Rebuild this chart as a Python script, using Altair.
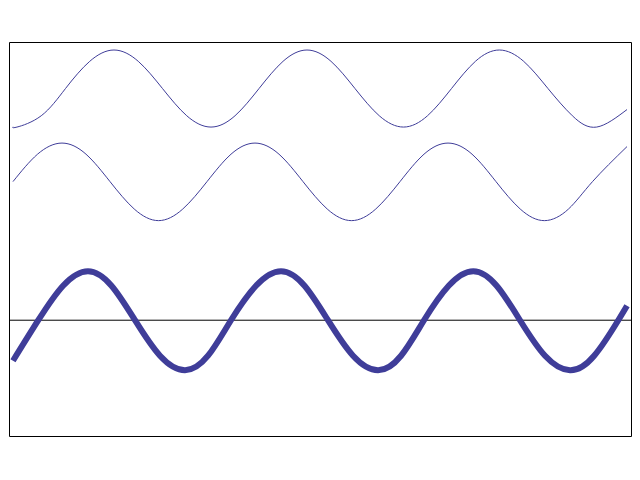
import altair as alt
import pandas as pd

# Values (x in data units 0..10, y in data units)
top_x = [0.0, 0.065, 0.46, 0.855, 1.25, 1.645, 2.04, 2.435, 2.83, 3.225, 3.616, 4.007,
         4.398, 4.788, 5.179, 5.570, 5.965, 6.360, 6.751, 7.142, 7.531, 7.920, 8.317,
         8.713, 9.11, 9.506, 10.0]
top_y = [3.865, 3.86, 4.086, 4.63, 5.174, 5.40, 5.174, 4.63, 4.086, 3.86, 4.086, 4.63,
         5.174, 5.40, 5.174, 4.63, 4.086, 3.86, 4.086, 4.63, 5.174, 5.40, 5.174,
         4.63, 4.086, 3.86, 4.21]

mid_x = [0.0, 0.40, 0.798, 1.189, 1.580, 1.975, 2.370, 2.765, 3.160, 3.551, 3.941,
         4.332, 4.723, 5.118, 5.513, 5.908, 6.303, 6.694, 7.085, 7.476, 7.866, 8.261,
         8.656, 9.047, 9.438, 10.0]
mid_y = [2.77, 3.318, 3.54, 3.318, 2.77, 2.222, 1.99, 2.222, 2.77, 3.318, 3.54,
         3.318, 2.77, 2.222, 1.99, 2.222, 2.77, 3.318, 3.54, 3.318, 2.77, 2.222,
         1.99, 2.222, 2.77, 3.47]

bot_x = [0.0, 0.412, 0.816, 1.221, 1.604, 1.987, 2.394, 2.801, 3.176, 3.550, 3.958,
         4.365, 4.748, 5.130, 5.538, 5.945, 6.320, 6.694, 7.096, 7.497, 7.877, 8.257,
         8.665, 9.072, 9.465, 9.858, 10.0]
bot_y = [-0.81, 0.0, 0.69, 0.98, 0.69, 0.0, -0.71, -1.0, -0.71, 0.0, 0.69,
         0.98, 0.69, 0.0, -0.71, -1.0, -0.71, 0.0, 0.69, 0.98, 0.69, 0.0,
         -0.71, -1.0, -0.71, 0.0, 0.29]

zero_level = [0.0]

top_df = pd.DataFrame({"x": top_x, "y": top_y})
mid_df = pd.DataFrame({"x": mid_x, "y": mid_y})
bot_df = pd.DataFrame({"x": bot_x, "y": bot_y})
zero_df = pd.DataFrame({"y": zero_level})

LINE_COLOR = "#3f3d99"

xscale = alt.Scale(domain=[-0.065, 10.065], nice=False, zero=False)
yscale = alt.Scale(domain=[-2.314, 5.56], nice=False, zero=False)

def wave(df, width):
    return alt.Chart(df).mark_line(
        color=LINE_COLOR, strokeWidth=width, interpolate="natural", strokeCap="butt"
    ).encode(
        x=alt.X("x:Q", scale=xscale, axis=None),
        y=alt.Y("y:Q", scale=yscale, axis=None),
    )

rule = alt.Chart(zero_df).mark_rule(color="black", strokeWidth=1).encode(
    y=alt.Y("y:Q", scale=yscale, axis=None)
)

chart = alt.layer(
    wave(top_df, 1),
    wave(mid_df, 1),
    rule,
    wave(bot_df, 6),
).properties(
    width=622,
    height=394,
    padding={"left": 1, "top": 34, "right": 1, "bottom": 2},
    autosize=alt.AutoSizeParams(type="none"),
    background="white",
).configure_view(
    stroke="black",
    strokeWidth=1,
)

chart.save("out.html", embed_options={"renderer": "svg", "actions": False})
